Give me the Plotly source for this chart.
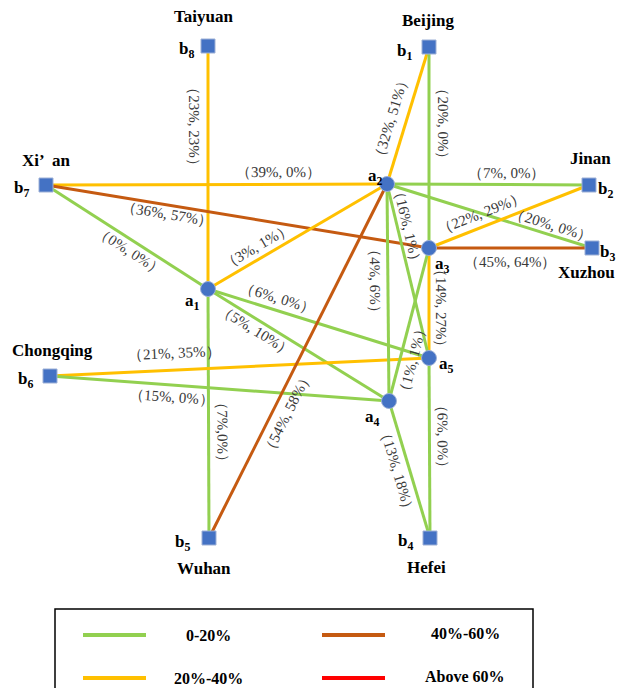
import math
import plotly.graph_objects as go

# ---------------- data ----------------
node_ids = ["b1", "b2", "b3", "b4", "b5", "b6", "b7", "b8", "a1", "a2", "a3", "a4", "a5"]
node_cities = ["Beijing", "Jinan", "Xuzhou", "Hefei", "Wuhan", "Chongqing", "Xi’  an", "Taiyuan",
               "", "", "", "", ""]
node_x = [429, 589, 592, 430, 209, 50, 46, 208, 208, 387, 429, 389, 429]
node_y = [47, 185, 248, 538, 538, 376, 185, 46, 289, 184, 248, 401, 358]

edge_from = ["b8", "b7", "b7", "b7", "a1", "a1", "a1", "a1", "b6", "b6", "b5", "b1",
             "b1", "a3", "a5", "a2", "a2", "a3", "a3", "a2", "a2", "a4", "a4"]
edge_to = ["a1", "a2", "a3", "a1", "a2", "a5", "a4", "b5", "a5", "a4", "a2", "a2",
           "a3", "a5", "b4", "b2", "b3", "b2", "b3", "a5", "a4", "a3", "b4"]
edge_labels = ["（23%, 23%）", "（39%, 0%）", "（36%, 57%）", "（0%, 0%）", "（3%, 1%）",
               "（6%, 0%）", "（5%, 10%）", "（7%,0%）", "（21%, 35%）", "（15%, 0%）",
               "（54%, 58%）", "（32%, 51%）", "（20%, 0%）", "（14%, 27%）", "（6%, 0%）",
               "（7%, 0%）", "（20%, 0%）", "（22%, 29%）", "（45%, 64%）", "（16%, 1%）",
               "（4%, 6%）", "（1%, 1%）", "（13%, 18%）"]
edge_class = [1, 1, 2, 0, 1, 0, 0, 0, 1, 0, 2, 1, 0, 1, 0, 0, 0, 1, 2, 0, 0, 0, 0]

class_names = ["0-20%", "20%-40%", "40%-60%", "Above 60%"]
class_colors = ["#92D050", "#FFC000", "#C55A11", "#FF0000"]

# ---------------- layout helpers (label placement along edges) ----------------
label_t = [0.33, 0.683, 0.32, 0.55, 0.31, 0.30, 0.29, 0.574, 0.33, 0.36, 0.37, 0.55,
           0.38, 0.545, 0.44, 0.594, 0.79, 0.36, 0.497, 0.255, 0.447, 0.29, 0.485]
label_d = [14, -12, 9, 10, -12, -12, 10, -14, -17, 12, 14, 16,
           -14, -12, -13, -12, -10, -13, 14, -10, 13, 12, 12]

name_off = {"b1": (-25, 2), "b2": (16, 2), "b3": (15, 2), "b4": (-25, 1), "b5": (-27, 2),
            "b6": (-25, 1), "b7": (-25, 1), "b8": (-22, 1), "a1": (-16, 10), "a2": (-12, -10),
            "a3": (13, 14), "a4": (-17, 14), "a5": (17, 4)}
city_off = {"b1": (-1, -27), "b2": (1, -27), "b3": (-6, 24), "b4": (-4, 29), "b5": (-5, 30),
            "b6": (2, -26), "b7": (0, -25), "b8": (-5, -30)}

# page body has an 8px margin: make the plot area map 1:1 onto window pixels
PAGE_W, PAGE_H, BODY = 624, 696, 8
FIG_W, FIG_H = PAGE_W - 2 * BODY, PAGE_H - 2 * BODY
SERIF = "Liberation Serif, Times New Roman, serif"
pos = {n: (x, y) for n, x, y in zip(node_ids, node_x, node_y)}

fig = go.Figure()
annotations = []

# edges
for i, (s, t) in enumerate(zip(edge_from, edge_to)):
    x0, y0 = pos[s]
    x1, y1 = pos[t]
    fig.add_trace(go.Scatter(x=[x0, x1], y=[y0, y1], mode="lines",
                             line=dict(color=class_colors[edge_class[i]], width=3),
                             hoverinfo="skip", showlegend=False))
    dx, dy = x1 - x0, y1 - y0
    L = math.hypot(dx, dy)
    ux, uy = dx / L, dy / L
    nx, ny = -uy, ux
    lx = x0 + label_t[i] * dx + label_d[i] * nx
    ly = y0 + label_t[i] * dy + label_d[i] * ny
    ang = math.degrees(math.atan2(dy, dx))
    while ang > 90:
        ang -= 180
    while ang <= -90:
        ang += 180
    annotations.append(dict(x=lx, y=ly, text=edge_labels[i], showarrow=False,
                            textangle=ang, xanchor="center", yanchor="middle",
                            font=dict(family=SERIF, size=15, color="#3A3A3A")))

# nodes
bx = [x for n, x in zip(node_ids, node_x) if n.startswith("b")]
by = [y for n, y in zip(node_ids, node_y) if n.startswith("b")]
ax_ = [x for n, x in zip(node_ids, node_x) if n.startswith("a")]
ay_ = [y for n, y in zip(node_ids, node_y) if n.startswith("a")]
fig.add_trace(go.Scatter(x=bx, y=by, mode="markers",
                         marker=dict(symbol="square", size=14, color="#4472C4",
                                     line=dict(color="#9DB0D6", width=1)),
                         hoverinfo="skip", showlegend=False))
fig.add_trace(go.Scatter(x=ax_, y=ay_, mode="markers",
                         marker=dict(symbol="circle", size=15, color="#4472C4",
                                     line=dict(color="#9DB0D6", width=1)),
                         hoverinfo="skip", showlegend=False))

for n, x, y, city in zip(node_ids, node_x, node_y, node_cities):
    ox, oy = name_off[n]
    annotations.append(dict(x=x + ox, y=y + oy + 3, text=f"<b>{n[0]}<sub>{n[1:]}</sub></b>",
                            showarrow=False, xanchor="center", yanchor="middle",
                            font=dict(family=SERIF, size=17, color="black")))
    if city:
        cx, cy = city_off[n]
        annotations.append(dict(x=x + cx, y=y + cy, text=f"<b>{city}</b>", showarrow=False,
                                xanchor="center", yanchor="middle",
                                font=dict(family=SERIF, size=17, color="black")))

# custom legend box
shapes = [dict(type="rect", xref="x", yref="y", x0=55, x1=533, y0=609, y1=730,
               line=dict(color="black", width=1.5), fillcolor="rgba(0,0,0,0)", layer="below")]
leg_x = [83, 83, 322, 322]
leg_y = [635, 678, 635, 678]
leg_tx = [208, 208, 465, 465]
leg_ty = [635, 678, 633, 676]
for k in range(4):
    fig.add_trace(go.Scatter(x=[leg_x[k], leg_x[k] + 63], y=[leg_y[k], leg_y[k]], mode="lines",
                             line=dict(color=class_colors[k], width=4),
                             hoverinfo="skip", showlegend=False))
    annotations.append(dict(x=leg_tx[k], y=leg_ty[k], text=f"<b>{class_names[k]}</b>",
                            showarrow=False, xanchor="center", yanchor="middle",
                            font=dict(family=SERIF, size=16, color="black")))

fig.update_layout(
    width=FIG_W, height=FIG_H, margin=dict(l=0, r=0, t=0, b=0),
    paper_bgcolor="white", plot_bgcolor="white",
    xaxis=dict(range=[BODY, BODY + FIG_W], visible=False, fixedrange=True),
    yaxis=dict(range=[BODY + FIG_H, BODY], visible=False, fixedrange=True),
    annotations=annotations, shapes=shapes, showlegend=False,
)

fig.write_html("out.html")
